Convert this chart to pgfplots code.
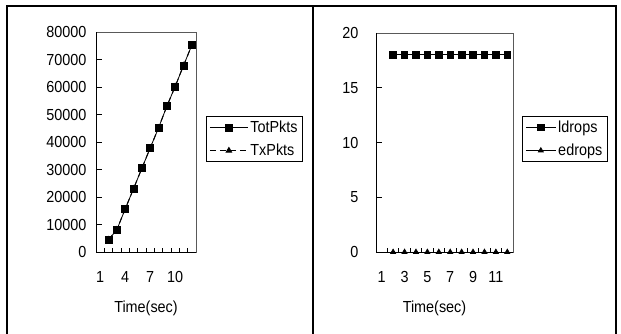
\documentclass[border=0pt]{standalone}
\usepackage{fontspec}
\setmainfont{Liberation Sans}[FakeStretch=0.9]
\usepackage{pgfplots}
\pgfplotsset{compat=1.18}
\begin{document}
\begin{tikzpicture}
\useasboundingbox (0pt,0pt) rectangle (621pt,334pt);
\draw[line width=1.3pt] (7pt,0pt) -- (7pt,328pt) -- (616pt,328pt) -- (616pt,0pt);
\draw[line width=1.3pt] (313pt,0pt) -- (313pt,328pt);
\pgfplotsset{
 mystyle/.style={
  scale only axis, anchor=south west, clip=false,
  axis line style={draw=gray!70!black, line width=0.8pt},
  tick style={black, line width=0.8pt},
  tick align=inside,
  xtick pos=bottom, ytick pos=left,
  /pgf/number format/assume math mode=true,
  /pgf/number format/set thousands separator={},
  scaled y ticks=false,
  font=\fontsize{16}{19}\selectfont,
  tick label style={font=\fontsize{16}{19}\selectfont},
  xmin=0.5, xmax=12.5,
  major x tick style={draw=none},
  minor xtick={1.5,2.5,...,11.5},
  minor tick length=4pt,
  major tick length=6pt,
  xticklabel style={yshift=-16pt},
  yticklabel style={xshift=-6pt},
  xlabel style={at={(axis description cs:0.5,0)}, anchor=center, yshift=-56pt},
  legend cell align=left,
  legend style={draw=black, line width=0.8pt, fill=white, font=\fontsize{16}{19}\selectfont,
    anchor=north west, row sep=6pt, inner xsep=3pt, inner ysep=2.5pt},
 }}
\begin{axis}[mystyle, at={(96pt,82pt)}, width=100pt, height=220pt,
  ymin=0, ymax=80000, ytick={0,10000,...,80000},
  xtick={1,4,7,10},
  xlabel={Time(sec)},
  legend style={at={(1.10,0.618)}},
  legend image code/.code={\draw[mark repeat=2,mark phase=2,#1] plot coordinates {(0pt,0pt) (19pt,0pt) (38pt,0pt)};}
]
\addplot[black, line width=0.8pt, mark=square*, mark size=3.5pt] coordinates {
(2,4485) (3,8100) (4,15600) (5,23000) (6,30400) (7,37800) (8,45100) (9,53000) (10,60200) (11,67800) (12,75200)};
\addlegendentry{TotPkts}
\addplot[black, line width=1pt, dash pattern=on 6pt off 4pt, mark=triangle*, mark size=3pt, mark options={solid}] coordinates {
(2,4485) (3,8100) (4,15600) (5,23000) (6,30400) (7,37800) (8,45100) (9,53000) (10,60200) (11,67800) (12,75200)};
\addlegendentry{TxPkts}
\draw[black, line width=0.8pt] (rel axis cs:0,1) -- (rel axis cs:0,0) -- (rel axis cs:1,0);
\end{axis}
\begin{axis}[mystyle, at={(376pt,82pt)}, width=137pt, height=219pt,
  ymin=0, ymax=20, ytick={0,5,...,20},
  xtick={1,3,...,11},
  yticklabel style={xshift=-8pt},
  xlabel={Time(sec)},
  xlabel style={xshift=-10pt},
  legend style={at={(1.066,0.621)}},
  legend image code/.code={\draw[mark repeat=2,mark phase=2,#1] plot coordinates {(0pt,0pt) (15pt,0pt) (30pt,0pt)};}
]
\addplot[black, line width=0.8pt, mark=square*, mark size=3.3pt] coordinates {
(2,18) (3,18) (4,18) (5,18) (6,18) (7,18) (8,18) (9,18) (10,18) (11,18) (12,18)};
\addlegendentry{ldrops}
\addplot[black, line width=0.8pt, mark=triangle*, mark size=2.8pt] coordinates {
(2,0) (3,0) (4,0) (5,0) (6,0) (7,0) (8,0) (9,0) (10,0) (11,0) (12,0)};
\addlegendentry{edrops}
\draw[black, line width=0.8pt] (rel axis cs:0,1) -- (rel axis cs:0,0) -- (rel axis cs:1,0);
\end{axis}
\end{tikzpicture}
\end{document}
